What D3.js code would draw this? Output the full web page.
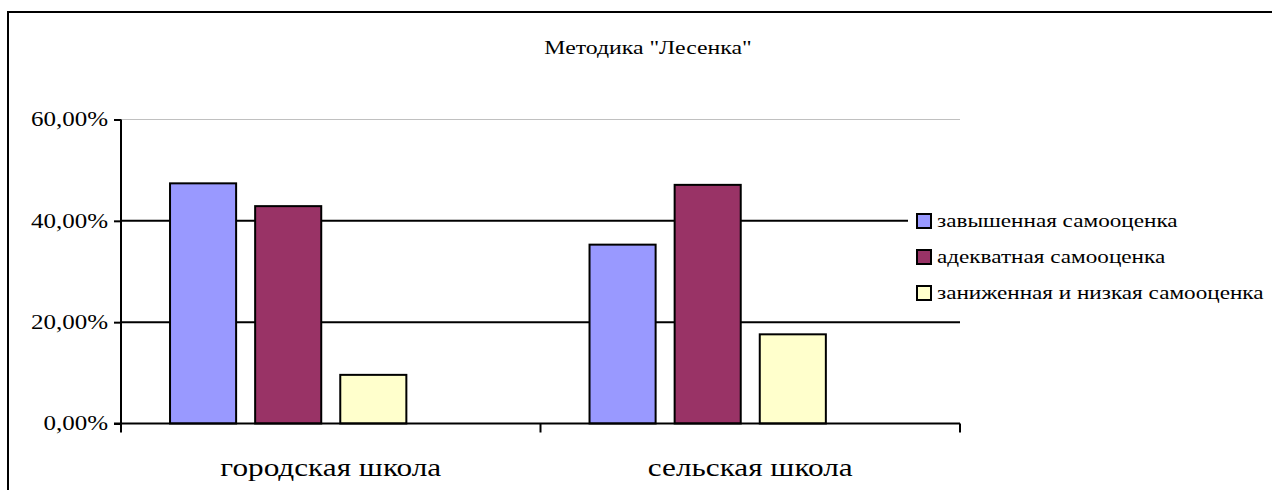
<!DOCTYPE html>
<html>
<head>
<meta charset="utf-8">
<script src="https://cdn.jsdelivr.net/npm/d3@7"></script>
<style>
  body { margin: 0; background: #fff; }
</style>
</head>
<body>
<div id="chart"></div>
<script>
// данные диаграммы
const categories = ["городская школа", "сельская школа"];
const series = ["завышенная самооценка", "адекватная самооценка", "заниженная и низкая самооценка"];
const colors = ["#9999FF", "#993366", "#FFFFCC"];
const values = [
    [0.474, 0.429, 0.096],   // городская школа
    [0.353, 0.471, 0.176]    // сельская школа
];
const yTicks = [0, 0.2, 0.4, 0.6];
const title = "Методика \"Лесенка\"";

const FONT = "Liberation Serif";
const STRETCH = 1.25;   // текст в оригинале растянут по горизонтали
const W = 1272, H = 490;
const plot = { left: 121, right: 960, top: 119.5, bottom: 423.5 };

const svg = d3.select("#chart").append("svg")
    .attr("width", W)
    .attr("height", H)
    .attr("font-family", FONT);

// рамка
svg.append("rect")
    .attr("x", 8).attr("y", 12)
    .attr("width", W + 20).attr("height", H + 20)
    .attr("fill", "#fff")
    .attr("stroke", "#000")
    .attr("stroke-width", 2);

const ru = d3.formatLocale({ decimal: ",", thousands: " ", grouping: [3], currency: ["", " руб."] });
const fmt = ru.format(".2%");

const x = d3.scaleBand()
    .domain(categories)
    .range([plot.left, plot.right]);

// 4 слота внутри категории: последний пустой (как в исходнике Excel)
const xInner = d3.scaleBand()
    .domain(d3.range(series.length + 1))
    .range([0, x.bandwidth()])
    .paddingInner(0.2235)
    .paddingOuter(0.576);

const y = d3.scaleLinear()
    .domain([0, 0.6])
    .range([plot.bottom, plot.top]);

// сетка
svg.append("g")
    .selectAll("line")
    .data(yTicks.filter(d => d > 0))
    .join("line")
    .attr("x1", plot.left).attr("x2", plot.right)
    .attr("y1", d => y(d)).attr("y2", d => y(d))
    .attr("stroke", d => d === 0.6 ? "#c0c0c0" : "#000")
    .attr("stroke-width", d => d === 0.6 ? 1 : 2);

// столбцы
const groups = svg.append("g")
    .selectAll("g")
    .data(values)
    .join("g")
    .attr("transform", (d, i) => `translate(${x(categories[i])},0)`);

groups.selectAll("rect")
    .data(d => d)
    .join("rect")
    .attr("x", (d, j) => xInner(j))
    .attr("width", xInner.bandwidth())
    .attr("y", d => y(d))
    .attr("height", d => y(0) - y(d))
    .attr("fill", (d, j) => colors[j])
    .attr("stroke", "#000")
    .attr("stroke-width", 2);

// ось Y
const yAxis = svg.append("g")
    .attr("transform", `translate(${plot.left},0)`)
    .call(d3.axisLeft(y).tickValues(yTicks).tickFormat(fmt).tickSize(7).tickPadding(6))
    .attr("font-family", FONT)
    .attr("font-size", 20);
yAxis.select(".domain").attr("stroke-width", 2).attr("d", `M0,${plot.top}V${plot.bottom}`);
yAxis.selectAll(".tick line").attr("stroke-width", 2);
yAxis.selectAll("text")
    .attr("fill", "#000")
    .attr("x", 0)
    .attr("transform", `translate(-13,0) scale(${STRETCH},1)`);

// ось X
const xAxis = svg.append("g").attr("transform", `translate(0,${plot.bottom})`);
xAxis.append("line")
    .attr("x1", plot.left - 7).attr("x2", plot.right)
    .attr("stroke", "#000").attr("stroke-width", 2);
xAxis.selectAll(".bnd")
    .data([plot.left, ...categories.map(c => x(c) + x.bandwidth())])
    .join("line")
    .attr("class", "bnd")
    .attr("x1", d => d).attr("x2", d => d)
    .attr("y1", 0).attr("y2", 9)
    .attr("stroke", "#000").attr("stroke-width", 2);
xAxis.selectAll("text")
    .data(categories)
    .join("text")
    .attr("transform", d => `translate(${x(d) + x.bandwidth() / 2},52) scale(${STRETCH},1)`)
    .attr("text-anchor", "middle")
    .attr("font-size", 25)
    .text(d => d);

// заголовок
svg.append("text")
    .attr("transform", `translate(648,54) scale(${STRETCH},1)`)
    .attr("text-anchor", "middle")
    .attr("font-size", 19)
    .text(title);

// легенда
const legend = svg.append("g").attr("transform", "translate(908,203)");
legend.append("rect")
    .attr("width", 364).attr("height", 110)
    .attr("fill", "#fff");
const items = legend.selectAll("g")
    .data(series)
    .join("g")
    .attr("transform", (d, i) => `translate(8,${18 + i * 36})`);
items.append("rect")
    .attr("x", 1).attr("y", -7)
    .attr("width", 14).attr("height", 14)
    .attr("fill", (d, i) => colors[i])
    .attr("stroke", "#000").attr("stroke-width", 2);
items.append("text")
    .attr("transform", "translate(21,6) scale(1.22,1)")
    .attr("font-size", 19)
    .text(d => d);
</script>
</body>
</html>
